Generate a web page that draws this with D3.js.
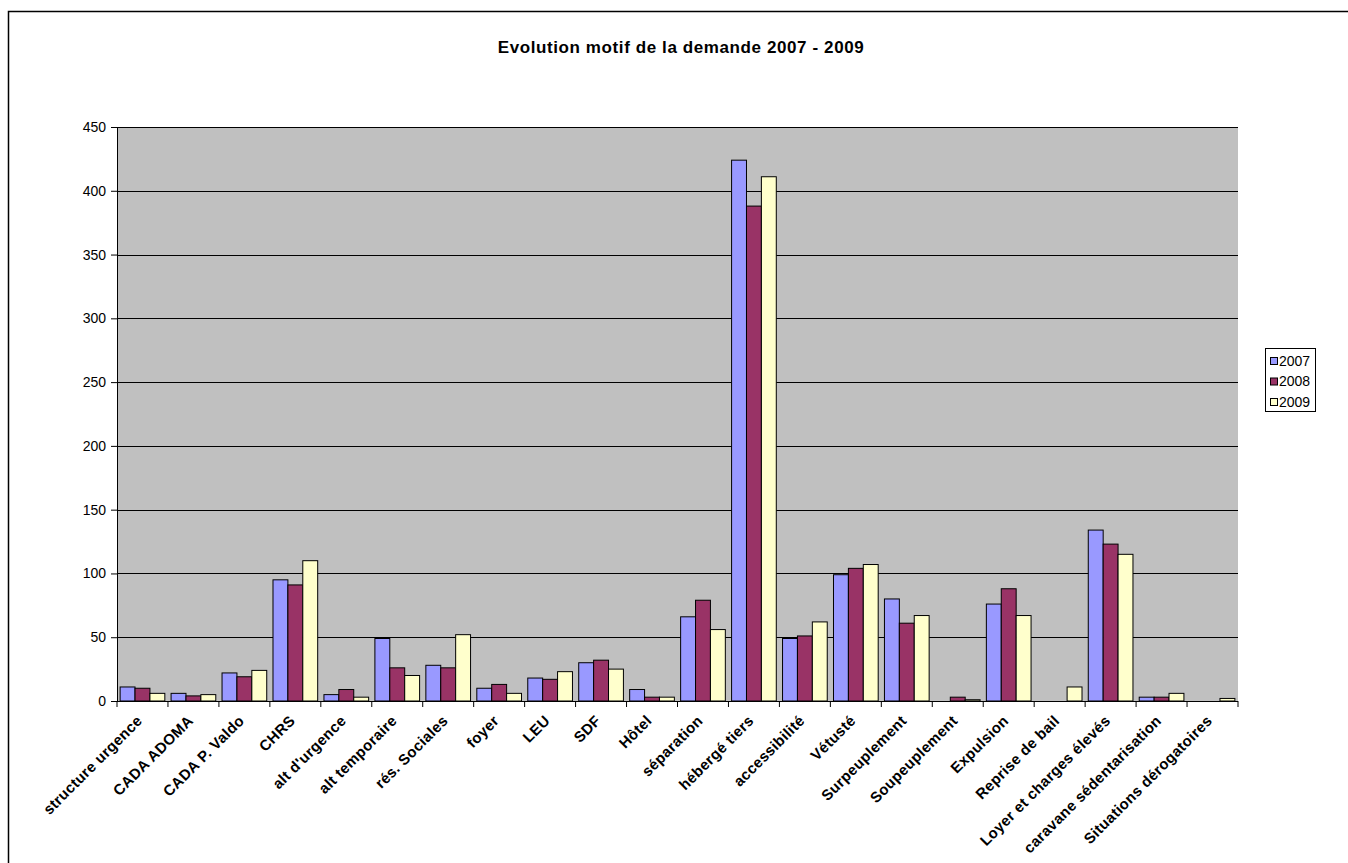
<!DOCTYPE html>
<html><head><meta charset="utf-8">
<script src="https://cdn.jsdelivr.net/npm/d3@7/dist/d3.min.js"></script>
<style>
html,body{margin:0;padding:0;background:#fff;}
svg{display:block;font-family:"Liberation Sans",Arial,sans-serif;}
</style></head>
<body>
<svg id="chart" width="1348" height="863"></svg>
<script>
const title = "Evolution motif de la demande 2007 - 2009";
const categories = ["structure urgence","CADA ADOMA","CADA P. Valdo","CHRS","alt d'urgence","alt temporaire","rés. Sociales","foyer","LEU","SDF","Hôtel","séparation","hébergé tiers","accessibilité","Vétusté","Surpeuplement","Soupeuplement","Expulsion","Reprise de bail","Loyer et charges élevés","caravane sédentarisation","Situations dérogatoires"];
const seriesNames = ["2007","2008","2009"];
const values2007 = [11,6,22,95,5,49,28,10,18,30,9,66,424,49,99,80,0,76,0,134,3,0];
const values2008 = [10,4,19,91,9,26,26,13,17,32,3,79,388,51,104,61,3,88,0,123,3,0];
const values2009 = [6,5,24,110,3,20,52,6,23,25,3,56,411,62,107,67,1,67,11,115,6,2];
const yTicks = [0,50,100,150,200,250,300,350,400,450];
const colors = ["#9999FF","#993366","#FFFFCC"];

const series = [values2007, values2008, values2009];
const svg = d3.select("#chart");
const plot = {left:117, top:127, right:1238, bottom:701};

// outer frame (only left and top edges visible)
svg.append("rect").attr("x",8.5).attr("y",11.5).attr("width",1400).attr("height",900)
  .attr("fill","none").attr("stroke","#000").attr("stroke-width",1.5);

svg.append("text").attr("x",681).attr("y",53).attr("text-anchor","middle")
  .attr("font-weight","bold").attr("font-size",17).attr("letter-spacing",0.6).text(title);

const x = d3.scaleBand().domain(categories).range([plot.left, plot.right]).paddingInner(0).paddingOuter(0);
const xs = d3.scaleBand().domain(seriesNames).range([0, x.bandwidth()]).paddingInner(0).paddingOuter(0.21);
const y = d3.scaleLinear().domain([0,450]).range([plot.bottom, plot.top]);

svg.append("rect").attr("x",plot.left).attr("y",plot.top)
  .attr("width",plot.right-plot.left).attr("height",plot.bottom-plot.top).attr("fill","#C0C0C0");

// gridlines
svg.append("g").selectAll("line").data(yTicks.filter(d=>d>0)).join("line")
  .attr("x1",plot.left).attr("x2",plot.right)
  .attr("y1",d=>Math.round(y(d))+0.5).attr("y2",d=>Math.round(y(d))+0.5)
  .attr("stroke","#000").attr("stroke-width",1);

// bars
const rows = categories.map((c,i)=>({c, vals: series.map((s,j)=>({name:seriesNames[j], v:s[i], j}))}));
const g = svg.append("g");
g.selectAll("g").data(rows).join("g")
  .attr("transform",d=>`translate(${x(d.c)},0)`)
  .selectAll("rect").data(d=>d.vals.filter(e=>e.v>0)).join("rect")
  .attr("x",d=>xs(d.name)).attr("width",xs.bandwidth())
  .attr("y",d=>y(d.v)).attr("height",d=>y(0)-y(d.v))
  .attr("fill",d=>colors[d.j]).attr("stroke","#000").attr("stroke-width",1);

// y axis
const yAxis = d3.axisLeft(y).tickValues(yTicks).tickSize(6).tickPadding(5).tickFormat(d3.format("d"));
const ya = svg.append("g").attr("transform",`translate(${plot.left},0)`).call(yAxis);
ya.select(".domain").attr("stroke","#000");
ya.selectAll("text").attr("font-size",14).attr("font-family","Liberation Sans, Arial, sans-serif").attr("fill","#000");

// x axis line + ticks at category boundaries
svg.append("line").attr("x1",plot.left).attr("x2",plot.right).attr("y1",plot.bottom+0.5).attr("y2",plot.bottom+0.5).attr("stroke","#000");
const bounds = categories.map(c=>x(c)).concat([plot.right]);
svg.append("g").selectAll("line").data(bounds).join("line")
  .attr("x1",d=>d).attr("x2",d=>d).attr("y1",plot.bottom).attr("y2",plot.bottom+6).attr("stroke","#000");

// category labels
svg.append("g").selectAll("text").data(categories).join("text")
  .attr("transform",d=>`translate(${x(d)+x.bandwidth()/2-3},${plot.bottom+17}) rotate(-45)`)
  .attr("text-anchor","end").attr("dy","0.35em")
  .attr("font-size",15).attr("font-weight","bold").attr("letter-spacing",0.3).text(d=>d);

// legend
const lg = svg.append("g");
lg.append("rect").attr("x",1265.5).attr("y",348.5).attr("width",50).attr("height",63)
  .attr("fill","#fff").attr("stroke","#000");
seriesNames.forEach((n,i)=>{
  const cy = 361 + i*20.5;
  lg.append("rect").attr("x",1270.5).attr("y",cy-3.5).attr("width",7).attr("height",7)
    .attr("fill",colors[i]).attr("stroke","#000");
  lg.append("text").attr("x",1279).attr("y",cy).attr("dy","0.35em").attr("font-size",14).text(n);
});
</script>
</body></html>
